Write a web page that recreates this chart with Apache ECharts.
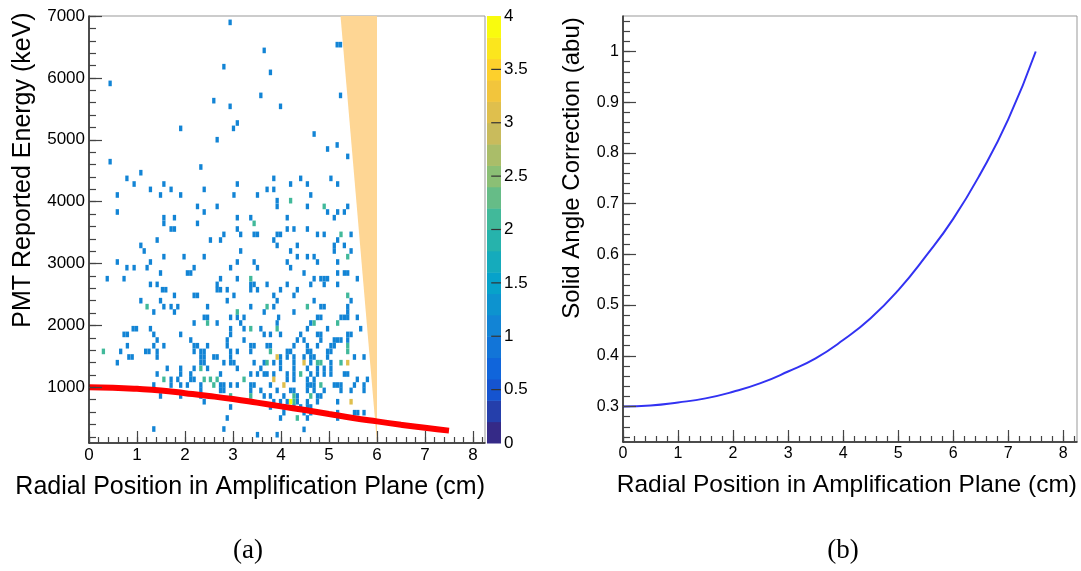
<!DOCTYPE html>
<html>
<head>
<meta charset="utf-8">
<script src="https://cdn.jsdelivr.net/npm/echarts@6/dist/echarts.min.js"></script>
<style>html,body{margin:0;padding:0;background:#fff}#c{width:1081px;height:571px}</style>
</head>
<body>
<div id="c"></div>
<script>
// ---------- DATA ----------
// Panel (a): 2D histogram cells [radius (cm), energy (keV)] by count
const cellsCount1 = [
[2.94,6897],[2.81,6181],[0.44,5911],[2.60,5632],[2.94,5540],[1.91,5184],[3.01,5184],[2.67,5001],
[5.17,6537],[5.24,6537],[3.65,6444],[3.78,6089],[3.58,5717],[5.24,5717],[3.99,5540],[3.09,5271],[4.69,5093],[5.17,4916],[4.97,4851],[5.39,4731],
[0.44,4646],[2.33,4560],[1.08,4468],[0.79,4376],[3.85,4376],[4.41,4376],[5.04,4376],
[0.94,4285],[1.56,4285],[3.09,4285],[4.20,4285],[4.55,4285],[5.18,4285],
[1.28,4198],[1.71,4198],[2.40,4198],[3.71,4198],[3.85,4198],
[0.59,4108],[1.49,4108],[1.91,4108],[3.02,4108],[3.51,4108],[4.62,4108],
[3.92,4016],
[2.26,3923],[2.67,3923],[3.92,3923],[4.55,3923],[5.39,3923],
[0.59,3833],[2.40,3833],[4.97,3833],[5.18,3833],[5.32,3833],
[1.56,3741],[1.78,3741],[3.09,3741],[3.37,3741],[4.13,3741],[5.11,3741],
[1.56,3649],[2.26,3649],
[1.71,3558],[1.78,3558],[3.09,3558],[4.13,3558],[4.27,3558],[4.55,3558],
[2.81,3471],[3.16,3471],[3.44,3471],[3.51,3471],[3.92,3471],[3.99,3471],[4.76,3471],[4.90,3471],[5.46,3471],
[1.42,3380],[2.53,3380],[2.74,3380],[3.85,3380],[5.18,3380],
[1.08,3293],[3.92,3293],[4.34,3293],[5.11,3293],[5.32,3293],
[1.15,3203],[3.16,3203],[4.20,3203],[5.11,3203],[5.46,3203],
[1.56,3111],[1.98,3111],[2.40,3111],[4.34,3111],[4.55,3111],[4.69,3111],
[0.59,3025],[1.28,3025],[3.09,3025],[3.44,3025],[4.13,3025],[4.76,3025],[5.18,3025],
[0.79,2933],[0.94,2933],[1.21,2933],[2.19,2933],[2.95,2933],[3.51,2933],[4.20,2933],
[1.49,2847],[2.05,2847],[2.12,2847],[4.48,2847],[5.18,2847],[5.32,2847],[5.39,2847],
[0.38,2755],[0.73,2755],[2.74,2755],[3.09,2755],[4.69,2755],[4.83,2755],[4.90,2755],[4.97,2755],[5.59,2755],
[1.28,2663],[1.42,2663],[2.67,2663],[3.37,2663],[3.44,2663],[3.71,2663],[4.13,2663],[4.62,2663],[4.90,2663],[5.18,2663],
[1.53,2577],[1.60,2577],[2.67,2577],[2.74,2577],[2.88,2577],[3.37,2577],[3.51,2577],[3.99,2577],[4.34,2577],
[1.78,2485],[2.19,2485],[2.26,2485],[3.02,2485],[3.85,2485],[4.27,2485],
[1.08,2400],[1.49,2400],[2.88,2400],[3.92,2400],[4.69,2400],[5.46,2400],
[1.56,2303],[1.71,2303],[1.85,2303],[2.47,2303],[3.37,2303],[3.85,2303],[4.83,2303],[4.90,2303],[5.39,2303],
[1.35,2217],[1.78,2217],[3.65,2217],[4.27,2217],[5.39,2217],
[2.40,2130],[2.47,2130],[2.95,2130],[3.09,2130],[3.23,2130],[3.95,2130],[4.76,2130],[4.83,2130],[5.25,2130],[5.32,2130],[5.39,2130],[5.59,2130],
[2.19,2039],[2.67,2039],[3.16,2039],[3.92,2039],[4.62,2039],
[0.92,1947],[0.99,1947],[1.28,1947],[2.95,1947],[3.23,1947],[3.58,1947],[4.55,1947],[4.97,1947],[5.66,1947],
[0.73,1855],[0.80,1855],[1.35,1855],[1.91,1855],[2.95,1855],[3.65,1855],[3.78,1855],[3.99,1855],[4.41,1855],[4.76,1855],[4.83,1855],[5.39,1855],[5.46,1855],
[1.42,1764],[2.12,1764],[2.88,1764],[3.23,1764],[4.34,1764],[4.48,1764],[4.83,1764],[5.11,1764],[5.18,1764],[5.25,1764],[5.39,1764],
[0.80,1672],[1.35,1672],[1.56,1672],[2.19,1672],[2.26,1672],[2.47,1672],[2.88,1672],[3.37,1672],[3.44,1672],[3.71,1672],[3.78,1672],[4.27,1672],[4.55,1672],[4.76,1672],[5.04,1672],[5.11,1672],
[0.66,1580],[1.18,1580],[1.25,1580],[1.42,1580],[2.19,1580],[2.33,1580],[2.40,1580],[2.95,1580],[3.09,1580],[3.37,1580],[4.13,1580],[4.20,1580],[4.55,1580],[4.62,1580],[4.97,1580],[5.04,1580],
[0.83,1490],[0.90,1490],[1.42,1490],[2.33,1490],[2.40,1490],[2.60,1490],[2.67,1490],[2.95,1490],[3.99,1490],[4.13,1490],[4.27,1490],[4.48,1490],[4.62,1490],[4.69,1490],[4.97,1490],[5.53,1490],[5.73,1490],
[0.59,1398],[2.33,1398],[2.40,1398],[2.81,1398],[2.95,1398],[3.02,1398],[3.44,1398],[3.65,1398],[3.85,1398],[3.99,1398],[4.27,1398],[4.62,1398],[5.04,1398],
[1.63,1306],[1.91,1306],[2.19,1306],[2.47,1306],[3.09,1306],[3.58,1306],[3.99,1306],[4.27,1306],[4.55,1306],[4.76,1306],[4.90,1306],[5.04,1306],
[1.42,1215],[1.91,1215],[2.12,1215],[2.74,1215],[3.37,1215],[3.51,1215],[3.65,1215],[3.71,1215],[3.85,1215],[4.13,1215],[4.27,1215],[4.62,1215],[4.76,1215],[4.90,1215],[5.04,1215],[5.32,1215],[5.39,1215],
[1.71,1128],[1.85,1128],[2.12,1128],[2.19,1128],[4.13,1128],[4.27,1128],[4.55,1128],[4.69,1128],[5.59,1128],[5.80,1128],
[1.35,1037],[1.71,1037],[1.91,1037],[2.05,1037],[2.33,1037],[2.74,1037],[2.81,1037],[2.95,1037],[3.09,1037],[3.37,1037],[3.44,1037],[3.78,1037],[4.55,1037],[4.62,1037],[4.69,1037],[5.11,1037],[5.18,1037],[5.25,1037],[5.53,1037],[5.73,1037],
[2.33,950],[2.74,950],[2.81,950],[3.37,950],[3.58,950],[3.92,950],[4.20,950],[4.27,950],[4.55,950],[4.69,950],[4.90,950],[5.25,950],[5.46,950],[5.73,950],
[1.49,860],[1.91,860],[2.33,860],[3.65,860],[3.78,860],[4.06,860],[4.34,860],[4.76,860],[4.83,860],
[2.40,767],[3.85,767],[3.99,767],[4.13,767],[4.34,767],[4.55,767],[4.76,767],[5.18,767],
[2.95,682],[3.78,682],[4.06,682],[4.27,682],[4.41,682],[4.55,682],[4.62,682],
[4.06,590],[4.48,590],[4.62,590],[5.18,590],[5.53,590],[5.60,590],[5.73,590],
[2.88,504],[3.99,504],[4.55,504],[5.18,504],
[1.35,326],[2.81,326],[4.48,320],
[3.51,234],[3.92,234]
];
const cellsCount2 = [
[4.20,4016],[4.90,3923],[3.44,3649],[5.25,3471],[5.39,3111],[3.37,2755],[5.39,2485],[1.21,2303],[2.47,2039],
[0.30,1580],[2.33,1306],[1.56,1128],[2.40,1128],[2.53,1128],[2.67,1128],[2.60,1037],[2.95,860],[3.71,2303],
[4.55,2303],[3.09,2217],[4.69,2039],[5.18,2039],[3.37,1947],[3.92,1947],[5.39,1672],[3.78,1580],[5.39,1580],
[3.71,1398],[4.76,1398],[4.83,1398],[5.25,1398],[4.41,1215],[3.23,1128],[4.83,1037],[3.37,860],[4.27,860],
[4.62,860],[4.27,767],[4.34,504]
];
const cellsCount3 = [[3.92,1490],[4.48,1398],[5.39,1398],[3.85,1128],[4.06,1037],[5.46,767]];
const cellsCount4 = [[4.20,767]];

// Panel (a): excluded (shaded) region vertices [cm, keV]
const vetoRegion = [[5.24,7000],[6.0,7000],[6.0,100]];

// Curves: radius (cm)
const radius = [0,0.5,1,1.5,2,2.5,3,3.5,4,4.5,5,5.5,6,6.5,7,7.5];
// Panel (a) red curve: expected energy (keV)
const expectedEnergy = [1000,993,975,948,905,860,810,752,692,632,568,505,449,395,345,300];
// Panel (b) blue curve: solid angle correction (abu)
const solidAngle = [0.300,0.302,0.308,0.316,0.329,0.346,0.369,0.395,0.431,0.474,0.529,0.596,0.670,0.760,0.866,1.000];

// Tick labels
const xTicks = [0,1,2,3,4,5,6,7,8];
const yTicksA = [1000,2000,3000,4000,5000,6000,7000];
const yTicksB = [0.3,0.4,0.5,0.6,0.7,0.8,0.9,1];
const zTicks = [0.5,1,1.5,2,2.5,3,3.5];
const zLevels = [0,0.2,0.4,0.6,0.8,1.0,1.2,1.4,1.6,1.8,2.0,2.2,2.4,2.6,2.8,3.0,3.2,3.4,3.6,3.8,4.0];

// ---------- STYLE ----------
const palette = ['#352a87','#253fab','#1554d0','#1065db','#1275d8','#1284d5','#0d93cf','#07a2ca','#15abbc','#26b3ac',
'#41b99a','#66bc87','#8bbf75','#aabd69','#c9bb5c','#dfbf4d','#f2c53c','#fdd02c','#fbe61d','#f9fb0e'];
const FONT = '"Liberation Sans", Arial, Helvetica, sans-serif';
const DX = 0.0688, DY = 91;

function minorList(lo, hi, step) {
  const out = [];
  const n = Math.round((hi - lo) / step);
  for (let k = 0; k <= n; k++) out.push(+(lo + k * step).toFixed(4));
  return out;
}
const xMinor = minorList(0, 8.2, 0.2);
const yMinorA = minorList(200, 7000, 200);
const yMinorB = minorList(0.24, 1.06, 0.02);

const cells = [].concat(
  cellsCount1.map(p => [p[0], p[1], 1]),
  cellsCount2.map(p => [p[0], p[1], 2]),
  cellsCount3.map(p => [p[0], p[1], 3]),
  cellsCount4.map(p => [p[0], p[1], 4])
);
const bands = [];
for (let k = 0; k < zLevels.length - 1; k++) bands.push([0.5, zLevels[k], zLevels[k + 1], k]);

function majorX(grid, max, fs) {
  return {
    gridIndex: grid, type: 'value', min: 0, max: max, position: 'bottom', z: 5,
    axisLine: { show: true, onZero: false, lineStyle: { color: '#222', width: 1.5 } },
    axisTick: { show: true, inside: true, length: 12, customValues: xTicks, lineStyle: { color: '#444', width: 1.2 } },
    axisLabel: { customValues: xTicks, fontSize: fs, fontFamily: FONT, color: '#000', margin: 4, formatter: v => String(v) },
    splitLine: { show: false }
  };
}
function minorX(grid, max) {
  return {
    gridIndex: grid, type: 'value', min: 0, max: max, position: 'bottom', z: 5,
    axisLine: { show: false, onZero: false },
    axisTick: { show: true, inside: true, length: 6, customValues: xMinor, lineStyle: { color: '#444', width: 1.2 } },
    axisLabel: { show: false }, splitLine: { show: false }
  };
}
function majorY(grid, min, max, ticks, fs) {
  return {
    gridIndex: grid, type: 'value', min: min, max: max, position: 'left', z: 5,
    axisLine: { show: true, onZero: false, lineStyle: { color: '#222', width: 1.5 } },
    axisTick: { show: true, inside: true, length: 13, customValues: ticks, lineStyle: { color: '#444', width: 1.2 } },
    axisLabel: { customValues: ticks, fontSize: fs, fontFamily: FONT, color: '#000', margin: 4, formatter: v => String(v) },
    splitLine: { show: false }
  };
}
function minorY(grid, min, max, ticks) {
  return {
    gridIndex: grid, type: 'value', min: min, max: max, position: 'left', z: 5,
    axisLine: { show: false, onZero: false },
    axisTick: { show: true, inside: true, length: 7, customValues: ticks, lineStyle: { color: '#444', width: 1.2 } },
    axisLabel: { show: false }, splitLine: { show: false }
  };
}

const chart = echarts.init(document.getElementById('c'), null, { renderer: 'canvas' });
chart.setOption({
  animation: false,
  backgroundColor: '#fff',
  grid: [
    { left: 89, top: 16, width: 396, height: 427, show: true, borderColor: '#999', borderWidth: 1, backgroundColor: 'transparent' },
    { left: 623, top: 16, width: 454, height: 426, show: true, borderColor: '#999', borderWidth: 1, backgroundColor: 'transparent' },
    { left: 487, top: 16, width: 14, height: 427, show: false }
  ],
  xAxis: [
    majorX(0, 8.25, 17), minorX(0, 8.25),
    majorX(1, 8.25, 16), minorX(1, 8.25),
    { gridIndex: 2, type: 'value', min: 0, max: 1, show: false }
  ],
  yAxis: [
    majorY(0, 100, 7000, yTicksA, 17), minorY(0, 100, 7000, yMinorA),
    majorY(1, 0.23, 1.07, yTicksB, 16), minorY(1, 0.23, 1.07, yMinorB),
    {
      gridIndex: 2, type: 'value', min: 0, max: 4, interval: 0.5, position: 'right',
      axisLine: { show: false },
      axisTick: { show: false },
      axisLabel: { fontSize: 17, fontFamily: FONT, color: '#000', margin: 3, formatter: v => String(v) },
      splitLine: { show: false }
    }
  ],
  series: [
    {
      type: 'custom', xAxisIndex: 0, yAxisIndex: 0, z: 1, silent: true,
      data: [[5.6, 3500]],
      renderItem: function (params, api) {
        const pts = vetoRegion.map(p => api.coord(p));
        return { type: 'polygon', shape: { points: pts }, style: { fill: '#fed694' } };
      }
    },
    {
      type: 'custom', xAxisIndex: 0, yAxisIndex: 0, z: 2, clip: true, silent: true,
      data: cells,
      renderItem: function (params, api) {
        const x = api.value(0), y = api.value(1), c = api.value(2);
        const p0 = api.coord([x - DX / 2, y + DY / 2]);
        const p1 = api.coord([x + DX / 2, y - DY / 2]);
        const idx = Math.min(19, Math.floor(c / 0.2 + 1e-9));
        return { type: 'rect', shape: { x: p0[0], y: p0[1], width: p1[0] - p0[0], height: p1[1] - p0[1] }, style: { fill: palette[idx] } };
      }
    },
    {
      type: 'line', xAxisIndex: 0, yAxisIndex: 0, z: 4, smooth: true, showSymbol: false, silent: true,
      data: radius.map((r, i) => [r, expectedEnergy[i]]),
      lineStyle: { color: '#ff0000', width: 6, cap: 'butt' }
    },
    {
      type: 'line', xAxisIndex: 2, yAxisIndex: 2, z: 4, smooth: true, showSymbol: false, silent: true,
      data: radius.map((r, i) => [r, solidAngle[i]]),
      lineStyle: { color: '#3232f2', width: 2 }
    },
    {
      type: 'custom', xAxisIndex: 4, yAxisIndex: 4, z: 1, silent: true,
      data: bands, encode: { x: 0, y: 1 },
      renderItem: function (params, api) {
        const lo = api.value(1), hi = api.value(2), k = api.value(3);
        const p0 = api.coord([0, hi]);
        const p1 = api.coord([1, lo]);
        return { type: 'rect', shape: { x: p0[0], y: p0[1], width: p1[0] - p0[0], height: p1[1] - p0[1] + 0.5 }, style: { fill: palette[k] } };
      }
    },
    {
      type: 'custom', xAxisIndex: 4, yAxisIndex: 4, z: 3, silent: true,
      data: zTicks.map(v => [0.5, v]),
      renderItem: function (params, api) {
        const a = api.coord([0.3, api.value(1)]);
        const b = api.coord([1, api.value(1)]);
        return { type: 'line', shape: { x1: a[0], y1: a[1], x2: b[0], y2: b[1] }, style: { stroke: '#333', lineWidth: 1.2 } };
      }
    }
  ],
  graphic: [
    { type: 'text', x: 23, y: 170, rotation: Math.PI / 2, style: { text: 'PMT Reported Energy (keV)', font: '25px ' + FONT, fill: '#000', align: 'center', verticalAlign: 'middle' } },
    { type: 'text', x: 485, y: 487, style: { text: 'Radial Position in Amplification Plane (cm)', font: '25px ' + FONT, fill: '#000', align: 'right', verticalAlign: 'middle' } },
    { type: 'text', x: 572, y: 168, rotation: Math.PI / 2, style: { text: 'Solid Angle Correction (abu)', font: '24px ' + FONT, fill: '#000', align: 'center', verticalAlign: 'middle' } },
    { type: 'text', x: 1077, y: 485, style: { text: 'Radial Position in Amplification Plane (cm)', font: '24.5px ' + FONT, fill: '#000', align: 'right', verticalAlign: 'middle' } },
    { type: 'text', x: 248, y: 551, style: { text: '(a)', font: '27px "Liberation Serif", "DejaVu Serif", serif', fill: '#000', align: 'center', verticalAlign: 'middle' } },
    { type: 'text', x: 843, y: 551, style: { text: '(b)', font: '27px "Liberation Serif", "DejaVu Serif", serif', fill: '#000', align: 'center', verticalAlign: 'middle' } }
  ]
});
</script>
</body>
</html>
